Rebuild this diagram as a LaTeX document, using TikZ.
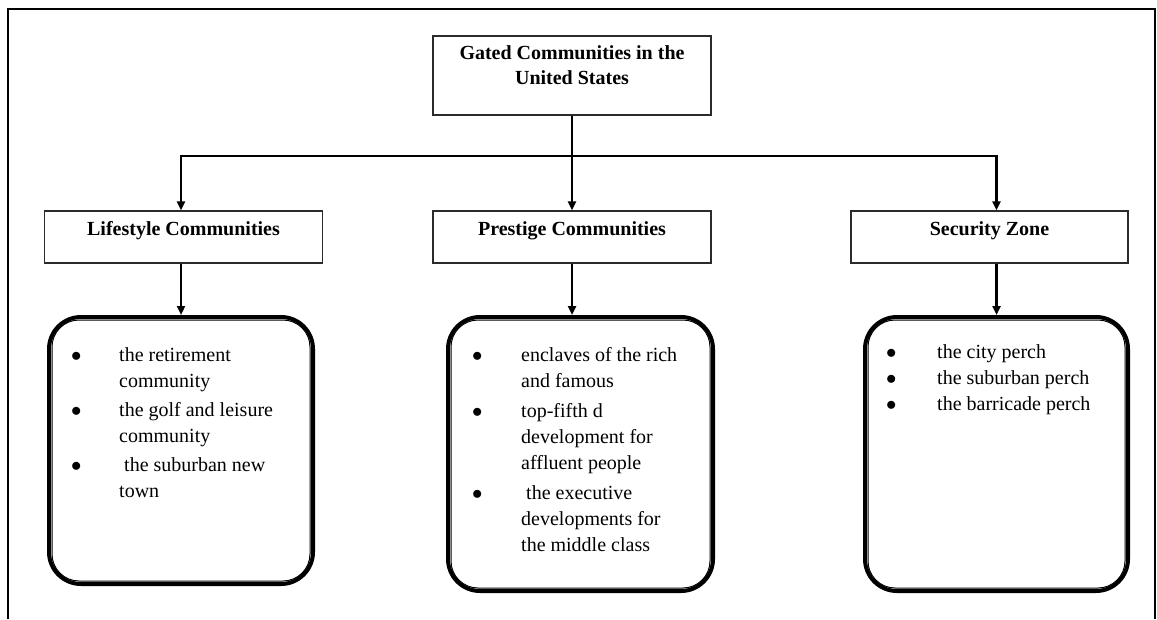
\documentclass[tikz,border=0pt]{standalone}
\usepackage{fontspec}
\setmainfont{Liberation Serif}
\usetikzlibrary{arrows.meta,positioning}
\definecolor{Ink}{HTML}{000000}
\definecolor{Edge}{HTML}{2B2B2B}
\newcommand{\bul}{$\bullet$}

\begin{document}
\begin{tikzpicture}[x=1pt,y=-1pt,
    headbox/.style={draw=Edge,line width=1.3pt,minimum width=278pt,inner xsep=0pt,inner ysep=4pt,
      font=\fontsize{20}{25}\selectfont\bfseries,align=center},
    listbox/.style={draw=Ink,line width=4pt,rounded corners=32pt},
    itemlist/.style={inner sep=0pt,anchor=base west,font=\fontsize{20}{26}\selectfont},
    conn/.style={Ink,line width=2.6pt,-{Triangle[length=9pt,width=8pt]}}]
  \useasboundingbox (0,0) rectangle (1157,619);
  \draw[Ink,line width=2.5pt] (8,619) -- (8,9) -- (1155,9) -- (1155,619);

  % boxes
  \node[headbox,text height=44pt,text depth=27pt] (gated) at (572,75.5) {Gated Communities in the\\United States};
  \node[headbox,text height=20pt,text depth=24pt] (lifestyle) at (183.5,237) {Lifestyle Communities};
  \node[headbox,text height=20pt,text depth=24pt] (prestige) at (572,237) {Prestige Communities};
  \node[headbox,minimum width=277pt,text height=20pt,text depth=24pt] (security) at (989.5,237) {Security Zone};

  \node[listbox,minimum width=264pt,minimum height=267pt] (lslist) at (181,450.5) {};
  \node[listbox,minimum width=265pt,minimum height=274pt] (prlist) at (580.5,454) {};
  \node[listbox,minimum width=263pt,minimum height=274pt] (sclist) at (996.5,454) {};
  \foreach \b in {lslist,prlist,sclist}
    \draw[Ink,line width=1pt,rounded corners=27pt] ([shift={(5pt,-5pt)}]\b.north west) rectangle ([shift={(-5pt,5pt)}]\b.south east);

  % items
  \node[itemlist] (lsitems) at (71,361) {\begin{tabular}[t]{@{}p{48pt}@{}l@{}}
    \bul & the retirement\\ & community\\[3pt]
    \bul & the golf and leisure\\ & community\\[3pt]
    \bul & \ the suburban new\\ & town
  \end{tabular}};
  \node[itemlist] (pritems) at (472,361) {\begin{tabular}[t]{@{}p{49pt}@{}l@{}}
    \bul & enclaves of the rich\\ & and famous\\[4pt]
    \bul & top-fifth d\\ & development for\\ & affluent people\\[4pt]
    \bul & \ the executive\\ & developments for\\ & the middle class
  \end{tabular}};
  \node[itemlist] (scitems) at (886,358) {\begin{tabular}[t]{@{}p{51pt}@{}l@{}}
    \bul & the city perch\\
    \bul & the suburban perch\\
    \bul & the barricade perch
  \end{tabular}};

  % connectors
  \coordinate (fork) at (572,156);
  \draw[conn] (gated) -- (prestige);
  \draw[conn] (fork) -| (lifestyle.north -| lslist.north);
  \draw[conn] (fork) -| (security.north -| sclist.north);
  \draw[conn] (lifestyle.south -| lslist.north) -- (lslist.north);
  \draw[conn] (prestige.south) -- (prestige.south |- prlist.north);
  \draw[conn] (security.south -| sclist.north) -- (sclist.north);
\end{tikzpicture}
\end{document}
